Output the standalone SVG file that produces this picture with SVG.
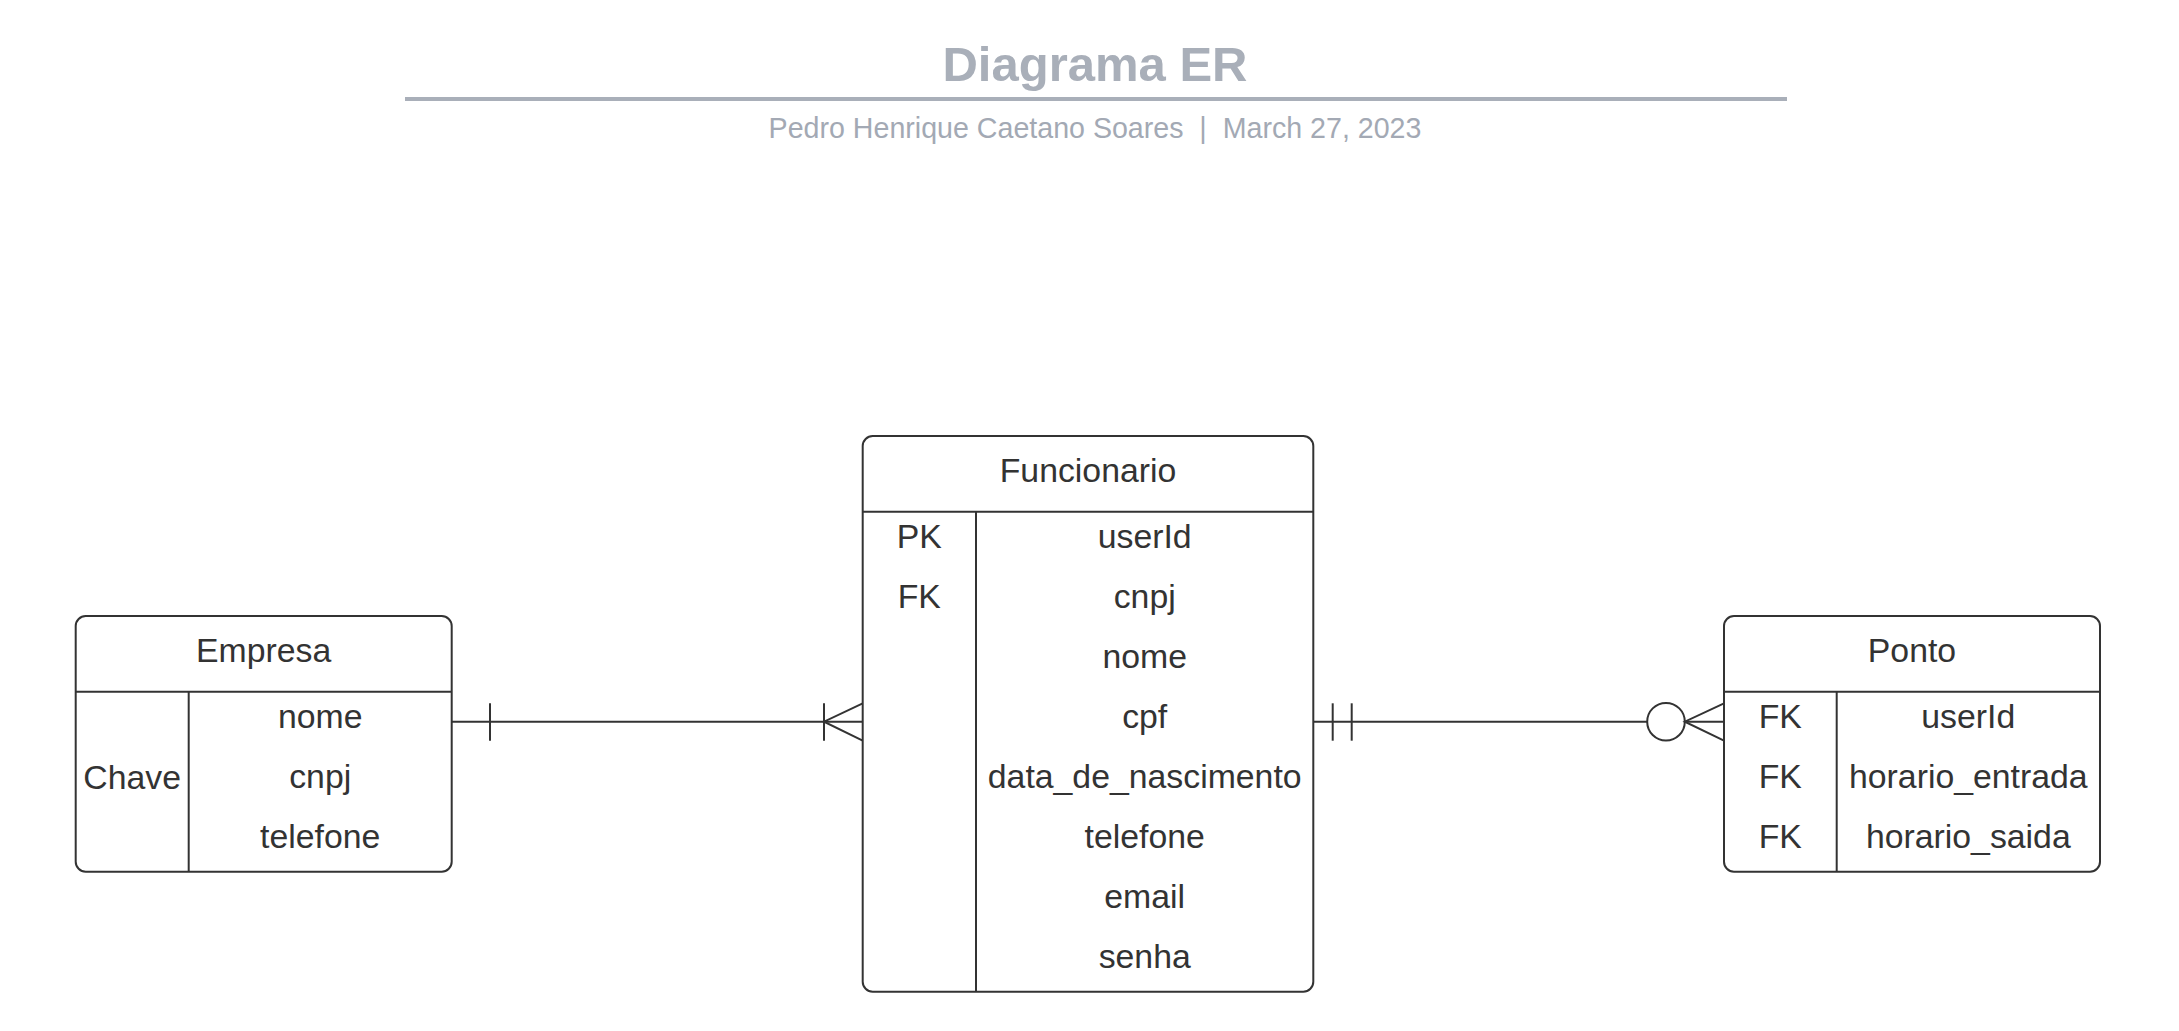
<svg xmlns="http://www.w3.org/2000/svg" width="2179" height="1031" viewBox="0 0 2179 1031">
<style>
.box{fill:#ffffff;stroke:#333333;stroke-width:2}
.ln{stroke:#333333;stroke-width:2;fill:none}
.t{font-family:"Liberation Sans",Arial,sans-serif;font-size:33.8px;fill:#333333;text-anchor:middle}
.title{font-family:"Liberation Sans",Arial,sans-serif;font-size:49px;font-weight:bold;fill:#a9afb9;text-anchor:middle}
.sub{font-family:"Liberation Sans",Arial,sans-serif;font-size:28.6px;fill:#a3a9b4;text-anchor:middle}
</style>
<rect width="2179" height="1031" fill="#ffffff"/>
<g id="header">
<text class="title" x="1095" y="81">Diagrama ER</text>
<rect x="405" y="97" width="1382" height="4" fill="#a9afb9"/>
<text class="sub" x="1095" y="137.7" xml:space="preserve">Pedro Henrique Caetano Soares  |  March 27, 2023</text>
</g>
<g id="connectors">
<line class="ln" x1="451.7" y1="721.7" x2="862.7" y2="721.7"/>
<line class="ln" x1="490" y1="703.3" x2="490" y2="740.7"/>
<line class="ln" x1="824" y1="703.3" x2="824" y2="740.7"/>
<polyline class="ln" points="862.7,703.3 824,721.7 862.7,740.7"/>
<line class="ln" x1="1313.3" y1="721.7" x2="1647.2" y2="721.7"/>
<line class="ln" x1="1332.7" y1="703.3" x2="1332.7" y2="740.7"/>
<line class="ln" x1="1351.7" y1="703.3" x2="1351.7" y2="740.7" stroke-width="1.3"/>
<circle class="ln" cx="1666" cy="721.7" r="18.8"/>
<line class="ln" x1="1684.8" y1="721.7" x2="1724" y2="721.7"/>
<polyline class="ln" points="1724,703.3 1684.8,721.7 1724,740.7"/>
</g>
<g id="empresa">
<rect class="box" x="75.7" y="616" width="376" height="255.7" rx="10"/>
<line class="ln" x1="75.7" y1="691.7" x2="451.7" y2="691.7"/>
<line class="ln" x1="188.7" y1="691.7" x2="188.7" y2="871.7"/>
<text class="t" x="263.7" y="661.7">Empresa</text>
<text class="t" x="132.2" y="789">Chave</text>
<text class="t" x="320.2" y="728.3">nome</text>
<text class="t" x="320.2" y="788.3">cnpj</text>
<text class="t" x="320.2" y="848.3">telefone</text>
</g>
<g id="funcionario">
<rect class="box" x="862.7" y="436" width="450.6" height="555.7" rx="10"/>
<line class="ln" x1="862.7" y1="511.7" x2="1313.3" y2="511.7"/>
<line class="ln" x1="976" y1="511.7" x2="976" y2="991.7"/>
<text class="t" x="1088" y="481.7">Funcionario</text>
<text class="t" x="919.3" y="548.3">PK</text>
<text class="t" x="919.3" y="608.3">FK</text>
<text class="t" x="1144.7" y="548.3">userId</text>
<text class="t" x="1144.7" y="608.3">cnpj</text>
<text class="t" x="1144.7" y="668.3">nome</text>
<text class="t" x="1144.7" y="728.3">cpf</text>
<text class="t" x="1144.7" y="788.3">data_de_nascimento</text>
<text class="t" x="1144.7" y="848.3">telefone</text>
<text class="t" x="1144.7" y="908.3">email</text>
<text class="t" x="1144.7" y="968.3">senha</text>
</g>
<g id="ponto">
<rect class="box" x="1724" y="616" width="376" height="255.7" rx="10"/>
<line class="ln" x1="1724" y1="691.7" x2="2100" y2="691.7"/>
<line class="ln" x1="1836.7" y1="691.7" x2="1836.7" y2="871.7"/>
<text class="t" x="1912" y="661.7">Ponto</text>
<text class="t" x="1780.3" y="728.3">FK</text>
<text class="t" x="1780.3" y="788.3">FK</text>
<text class="t" x="1780.3" y="848.3">FK</text>
<text class="t" x="1968.3" y="728.3">userId</text>
<text class="t" x="1968.3" y="788.3">horario_entrada</text>
<text class="t" x="1968.3" y="848.3">horario_saida</text>
</g>
</svg>
